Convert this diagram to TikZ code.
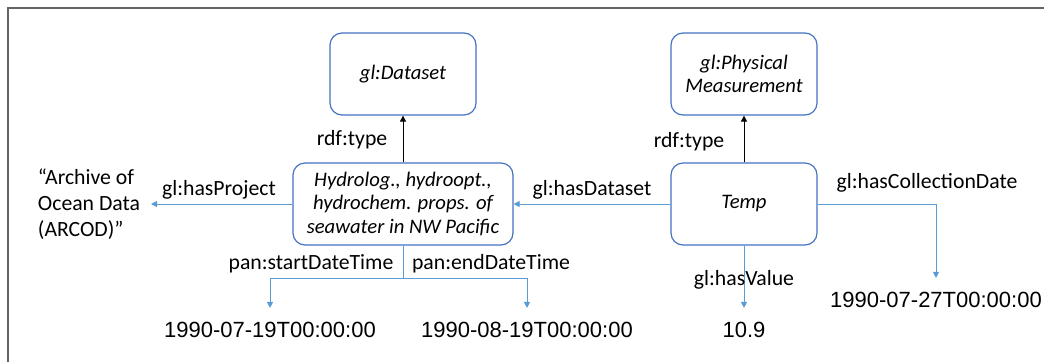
\documentclass[tikz,border=0pt]{standalone}
\usepackage{fontspec}
\usepackage{xcolor}
\setmainfont{Carlito}
\newfontfamily\datefont{Liberation Sans}
\usetikzlibrary{arrows.meta}
\definecolor{boxblue}{RGB}{68,114,196}
\definecolor{linkblue}{RGB}{91,155,213}
\definecolor{framegray}{RGB}{100,100,100}

\begin{document}
\begin{tikzpicture}[x=0.75pt,y=-0.75pt]
        \tikzset{entity/.append style={rectangle, rounded corners=9pt,
                    draw=boxblue, line width=0.9pt, fill=white,
                    minimum width=109.5pt,
                    minimum height=61.5pt,
                    align=center, font=\fontsize{15.5}{17.6}\selectfont\itshape},
                 link/.style={draw=linkblue, line width=0.75pt,
                    -{Triangle[width=4.5pt,length=4.5pt]}},
                 typelink/.style={draw=black, line width=0.6pt,
                    -{Triangle[width=4.5pt,length=4.5pt]}},
                 lbl/.style={font=\fontsize{16.3}{19.5}\selectfont, inner sep=0pt},
                 datum/.style={font=\datefont\fontsize{16.5}{19}\selectfont,
                    inner xsep=0pt, inner ysep=10.5pt}}
        \useasboundingbox (0,0) rectangle (1044,362);
        \draw[framegray, line width=0.9pt] (8,362) -- (8,8) -- (1044,8);
        \node[entity] (ds) at (403,74) {gl:Dataset};
        \node[entity] (pm) at (744,74) {gl:Physical\\Measurement};
        \node[entity, minimum width=165pt] (hydro) at (403,204)
            {Hydrolog., hydroopt.,\\hydrochem. props. of\\seawater in NW Pacific};
        \node[entity] (temp) at (744,204) {Temp};
        \node[lbl, align=left, anchor=east, inner sep=8pt] (arc) at (151,204)
            {“Archive of\\Ocean Data\\(ARCOD)”};
        \node[datum] (sd) at (270,330) {1990-07-19T00:00:00};
        \node[datum] (ed) at (527,330) {1990-08-19T00:00:00};
        \node[datum] (val) at (744,330) {10.9};
        \node[datum] (cd) at (936,300) {1990-07-27T00:00:00};
        \draw[typelink] (hydro) -- (ds);
        \draw[typelink] (temp) -- (pm);
        \draw[link] (hydro) -- (arc);
        \draw[link] (temp) -- (hydro);
        \draw[link] (temp) -- (val);
        \draw[link] (temp.east) -| (cd.north);
        \draw[link] (hydro.south) -- ++(0,33) -| (sd.north);
        \draw[link] (hydro.south) -- ++(0,33) -| (ed.north);
        \node[lbl] (t1) at (352,140) {rdf:type};
        \node[lbl] (t2) at (689,142) {rdf:type};
        \node[lbl] (hp) at (219,190) {gl:hasProject};
        \node[lbl] (hd) at (592,190) {gl:hasDataset};
        \node[lbl] (hc) at (927,183) {gl:hasCollectionDate};
        \node[lbl] (hv) at (744,280) {gl:hasValue};
        \node[lbl] (st) at (311,264) {pan:startDateTime};
        \node[lbl] (et) at (491,264) {pan:endDateTime};
    \end{tikzpicture}
\end{document}
